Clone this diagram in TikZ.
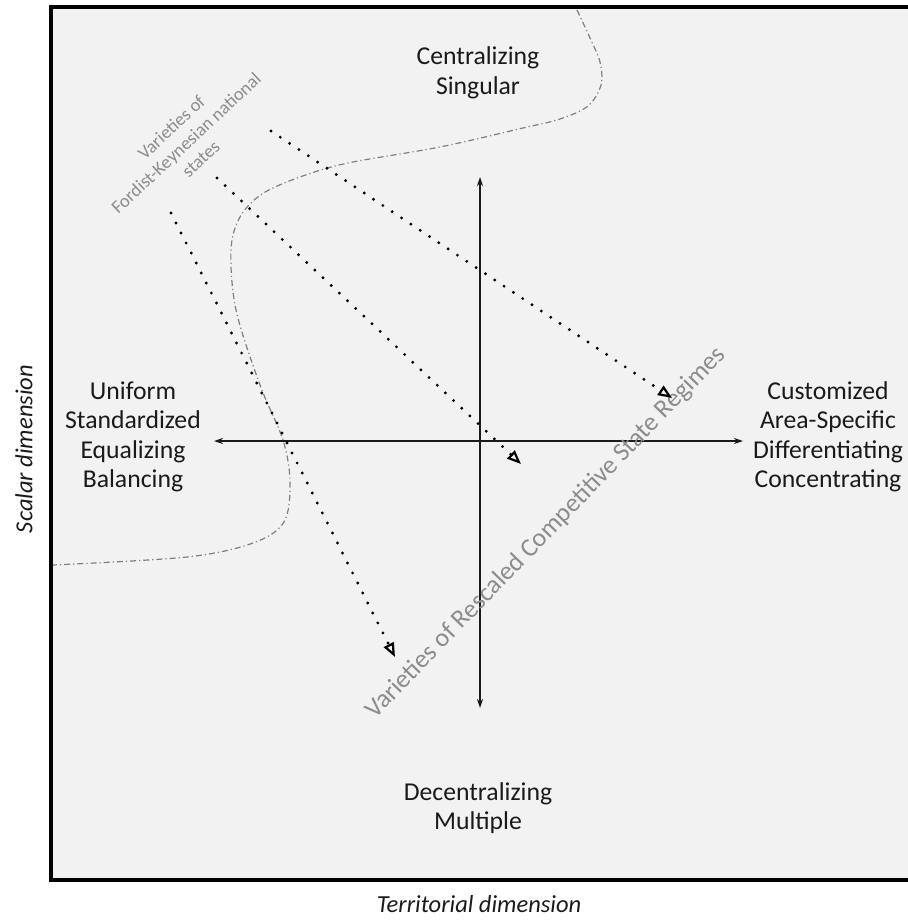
\documentclass[tikz,border=0pt]{standalone}
\usepackage{fontspec}
\setmainfont{Carlito}
\usetikzlibrary{arrows.meta}
\definecolor{panel}{HTML}{F2F2F2}
\definecolor{ink}{HTML}{1A1A1A}
\definecolor{soft}{HTML}{8C8C8C}
\definecolor{curvegray}{HTML}{7F7F7F}
\tikzset{
  lbl/.style={align=center, text=ink, font=\fontsize{25.7}{29.5}\selectfont},
  axislbl/.style={text=ink, font=\fontsize{24.5}{28}\selectfont\itshape},
  regime/.style={text=soft, font=\fontsize{26}{30}\selectfont},
  fordist/.style={align=center, text=soft, font=\fontsize{18.4}{21.5}\selectfont},
  axis/.style={line width=1.3pt, draw=ink, {Stealth[length=9pt,width=6pt]}-{Stealth[length=9pt,width=6pt]}},
  trajectory/.style={line width=3.2pt, line cap=round, dash pattern=on 0pt off 11.2pt,
    -{Triangle[open, length=14pt, width=11pt, line width=2.2pt]}},
  border/.style={line width=1.2pt, draw=curvegray, dash pattern=on 6pt off 3pt on 1.2pt off 3pt}
}
\begin{document}
\begin{tikzpicture}[x=1pt,y=-1pt]
\useasboundingbox (0,0) rectangle (907,920);
% framed panel
\draw[line width=4.3pt, fill=panel] (51,7) rectangle (918,880);

% boundary between the two families of regimes
\draw[border] plot[smooth, tension=0.55] coordinates {
  (577,10) (590,38) (600,62) (601,85) (588,106) (560,119) (523,128)
  (440,147) (348,163) (300,177) (262,194) (240,217) (231,250)
  (236,310) (260,385) (283,440) (290,482) (284,522) (253,543)
  (187,557) (53,565)};

% axes
\coordinate (vt) at (480,177);
\coordinate (vb) at (480,708);
\coordinate (hl) at (214,441);
\coordinate (hr) at (743,441);
\draw[axis] (vt) -- (vb);
\draw[axis] (hl) -- (hr);

% pole labels
\node[lbl] (top) at (478,73) {Centralizing\\Singular};
\node[lbl] (left) at (133,437) {Uniform\\Standardized\\Equalizing\\Balancing};
\node[lbl] (right) at (828,437) {Customized\\Area-Specific\\Differentiating\\Concentrating};
\node[lbl] (bottom) at (478,808) {Decentralizing\\Multiple};

% dimension labels
\node[axislbl, rotate=90] (scalar) at (24,449) {Scalar dimension};
\node[axislbl] (territorial) at (479,904) {Territorial dimension};

% regime families
\node[fordist, rotate=43] (fk) at (186,143) {Varieties of\\Fordist-Keynesian national\\states};
\node[regime, rotate=46] (rcsr) at (546,533) {Varieties of Rescaled Competitive State Regimes};

% rescaling trajectories
\coordinate (s1) at (271,131);
\coordinate (e1) at (672,398);
\coordinate (s2) at (217,178);
\coordinate (e2) at (521,464);
\coordinate (s3) at (171,213);
\coordinate (e3) at (395,657);
\draw[trajectory] (s1) -- (e1);
\draw[trajectory] (s2) -- (e2);
\draw[trajectory] (s3) -- (e3);
\end{tikzpicture}
\end{document}
